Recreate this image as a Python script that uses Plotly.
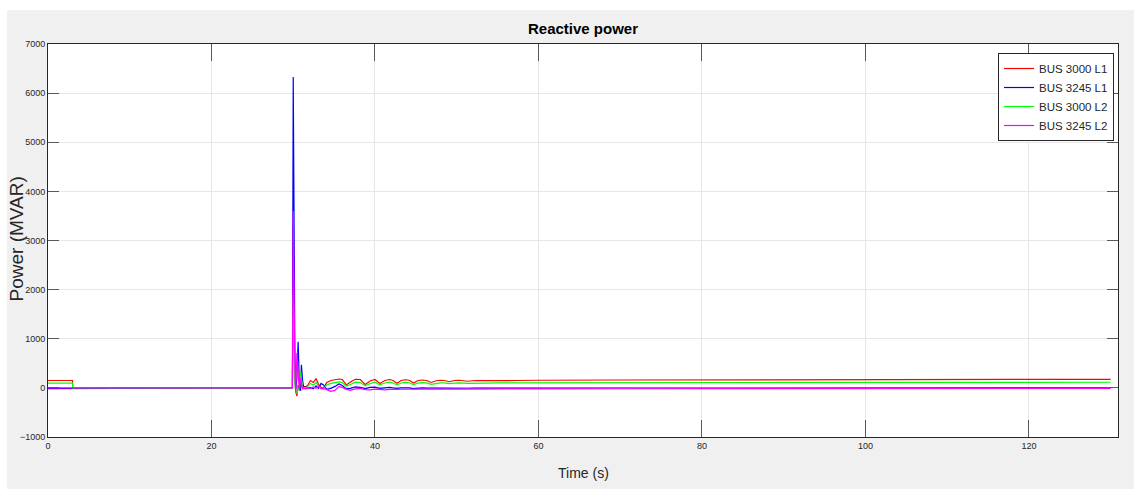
import plotly.graph_objects as go

# Simulation time (s) shared by all four bus traces
time_s = [0, 3, 3.01, 29.9, 30.0, 30.1, 30.2, 30.3, 30.45, 30.6, 30.75, 30.9, 31.0, 31.15,
          31.3, 31.5, 31.8, 32.1, 32.45, 32.8, 33.1, 33.4, 33.7, 34.1, 34.6, 35.1, 35.6,
          36.0, 36.5, 37.0, 37.6, 38.2, 38.8, 39.4, 40.0, 40.6, 41.2, 41.8, 42.2, 42.7,
          43.2, 43.7, 44.2, 44.7, 45.2, 45.8, 46.3, 46.9, 47.5, 48.0, 48.5, 49.1, 49.7,
          50.3, 51.3, 52.3, 53.5, 55, 57.5, 60, 70, 80, 90, 100, 110, 120, 130]

# Reactive power (MVAR)
bus3000_l1 = [150, 150, 0, 0, 3300, 1200, 300, -60, -170, 60, -40, 120, 40, -10,
              30, 20, 60, 150, 110, 190, 70, 10, -10, 110, 150, 170, 180,
              170, 60, 120, 175, 170, 70, 140, 170, 90, 150, 170, 150, 95,
              150, 165, 155, 100, 145, 160, 150, 110, 145, 155, 150, 125, 150,
              155, 135, 150, 145, 148, 150, 155, 160, 165, 168, 170, 172, 174, 175]

bus3245_l1 = [-15, -15, 0, 0, 6330, 2500, 600, -40, 200, 940, 100, -60, 470, 150,
              -20, 20, -10, 10, -20, 40, -10, 90, 60, -30, -10, 30, 80,
              50, -20, -10, 20, 10, -15, 10, 15, -10, 0, 10, 0, -10,
              0, 5, 0, -15, -5, 0, -5, -12, -5, -3, -5, -10, -5,
              -3, -8, -5, -6, -5, -5, -4, -3, -2, -2, -1, -1, 0, 0]

bus3000_l2 = [95, 95, 0, 0, 1900, 600, 100, -80, -120, 20, -60, 350, 150, -20,
              10, 0, 30, 90, 60, 110, 40, -10, -20, 60, 90, 110, 120,
              110, 30, 70, 115, 110, 40, 90, 115, 60, 100, 115, 100, 60,
              100, 110, 105, 65, 95, 108, 100, 70, 95, 102, 100, 85, 98,
              102, 90, 100, 97, 100, 102, 104, 107, 109, 110, 111, 112, 114, 115]

bus3245_l2 = [0, 0, 0, 0, 3600, 1500, 400, -100, 710, 300, -50, 200, 80, -20,
              0, -20, 0, -10, 20, -10, 30, -20, -10, -40, -70, -50, 30,
              10, -30, -50, -20, -10, -35, -40, -25, -30, -40, -30, -25, -30,
              -28, -25, -27, -30, -27, -25, -26, -28, -26, -25, -25, -27, -25,
              -24, -25, -24, -24, -23, -22, -20, -18, -16, -14, -13, -12, -11, -10]

series_names = ["BUS 3000 L1", "BUS 3245 L1", "BUS 3000 L2", "BUS 3245 L2"]
series_values = [bus3000_l1, bus3245_l1, bus3000_l2, bus3245_l2]
series_colors = ["#ff0000", "#0000ff", "#00ff00", "#ff00ff"]

x_ticks = [0, 20, 40, 60, 80, 100, 120]
y_ticks = [-1000, 0, 1000, 2000, 3000, 4000, 5000, 6000, 7000]

FONT = "Liberation Sans, Arial, sans-serif"
TEXT = "#262626"

fig = go.Figure()
for name, vals, col in zip(series_names, series_values, series_colors):
    fig.add_trace(go.Scatter(x=time_s, y=vals, mode="lines", name=name,
                             line=dict(color=col, width=1.2)))

axis_common = dict(
    showline=True, linecolor=TEXT, linewidth=1, mirror="ticks",
    ticks="inside", tickcolor="#595959", tickwidth=1,
    showgrid=True, gridcolor="#e6e6e6", gridwidth=1, zeroline=False,
    tickfont=dict(family=FONT, size=9, color=TEXT),
)

fig.update_xaxes(range=[0, 130.9], tickvals=x_ticks, ticklen=17, **axis_common)
fig.update_yaxes(range=[-1000, 7000], tickvals=y_ticks, ticklen=11, **axis_common)

W, H = 1134, 489
L, R, T, B = 48, 16, 44, 52
pw, ph = W - L - R, H - T - B


def px_x(p):
    return (p - L) / pw


def px_y(p):
    return (H - B - p) / ph


fig.update_layout(
    width=W, height=H,
    margin=dict(l=L, r=R, t=T, b=B),
    paper_bgcolor="#f0f0f0", plot_bgcolor="#ffffff",
    showlegend=True,
    legend=dict(
        x=px_x(1114), y=px_y(53), xanchor="right", yanchor="top",
        bgcolor="#ffffff", bordercolor=TEXT, borderwidth=1,
        font=dict(family=FONT, size=11.5, color=TEXT),
        itemwidth=30, tracegroupgap=0,
    ),
    shapes=[
        # white frame strips outside the grey figure panel
        dict(type="rect", xref="paper", yref="paper", layer="below",
             x0=px_x(-2), x1=px_x(7), y0=px_y(492), y1=px_y(-2),
             fillcolor="#ffffff", line=dict(width=0)),
        dict(type="rect", xref="paper", yref="paper", layer="below",
             x0=px_x(-2), x1=px_x(1136), y0=px_y(10), y1=px_y(-2),
             fillcolor="#ffffff", line=dict(width=0)),
    ],
    annotations=[
        dict(text="<b>Reactive power</b>", xref="paper", yref="paper",
             x=0.5, y=px_y(28), xanchor="center", yanchor="middle", showarrow=False,
             font=dict(family=FONT, size=15, color="#000000")),
        dict(text="Time (s)", xref="paper", yref="paper",
             x=0.5, y=px_y(473), xanchor="center", yanchor="middle", showarrow=False,
             font=dict(family=FONT, size=14, color=TEXT)),
        dict(text="Power (MVAR)", xref="paper", yref="paper", textangle=-90,
             x=px_x(15.5), y=px_y(239), xanchor="center", yanchor="middle", showarrow=False,
             font=dict(family=FONT, size=19, color=TEXT)),
    ],
)

fig.write_html("out.html")
